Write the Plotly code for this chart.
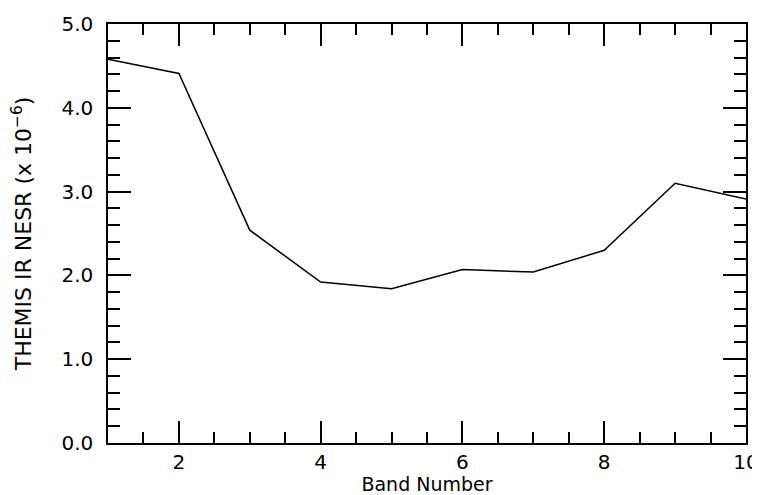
import plotly.graph_objects as go

band = [1, 2, 3, 4, 5, 6, 7, 8, 9, 10]
nesr = [4.58, 4.41, 2.54, 1.92, 1.84, 2.07, 2.04, 2.30, 3.10, 2.91]

x_title = "Band Number"
y_title = "THEMIS IR NESR (x 10<sup>−6</sup>)"

FONT = "DejaVu Sans"

fig = go.Figure()
fig.add_trace(go.Scatter(x=band, y=nesr, mode="lines",
                         line=dict(color="black", width=1.5),
                         showlegend=False, hoverinfo="skip"))

axis_common = dict(
    showline=True, linecolor="black", linewidth=1.5,
    mirror="allticks", ticks="inside", tickcolor="black", tickwidth=1.5,
    showgrid=False, zeroline=False,
    tickfont=dict(family=FONT, size=20, color="black"),
)

fig.update_xaxes(
    range=[1, 10], tick0=0, dtick=2, ticklen=22,
    minor=dict(dtick=0.5, tick0=0, ticklen=11, ticks="inside",
               tickcolor="black", tickwidth=1.5, showgrid=False),
    ticklabelstandoff=0,
    title=dict(text=x_title, font=dict(family=FONT, size=19, color="black"), standoff=14),
    **axis_common,
)
fig.update_yaxes(
    range=[0, 5], tick0=0, dtick=1, ticklen=23, tickformat=".1f",
    minor=dict(dtick=0.2, tick0=0, ticklen=12, ticks="inside",
               tickcolor="black", tickwidth=1.5, showgrid=False),
    ticklabelstandoff=9,
    title=dict(text=y_title, font=dict(family=FONT, size=22, color="black"), standoff=33),
    **axis_common,
)

fig.update_layout(
    width=752, height=487,
    margin=dict(l=100, r=14, t=16, b=52, autoexpand=False),
    paper_bgcolor="white", plot_bgcolor="white",
)

fig.write_html("out.html")
